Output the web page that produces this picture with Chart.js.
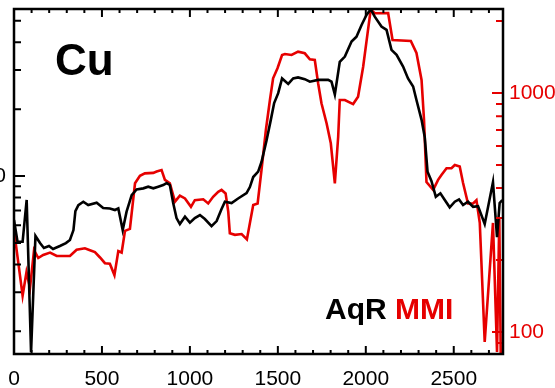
<!DOCTYPE html>
<html>
<head>
<meta charset="utf-8">
<script src="https://cdn.jsdelivr.net/npm/chart.js@4.4.1/dist/chart.umd.min.js"></script>
<style>
  html, body { margin: 0; padding: 0; background: #fff; overflow: hidden; }
  #wrap { position: relative; width: 555px; height: 388px; }
  #chart { position: absolute; left: 0; top: 0; }
  .lbl { position: absolute; font-family: "Liberation Sans", Arial, sans-serif; font-weight: bold; line-height: 1; white-space: nowrap; }
</style>
</head>
<body>
<div id="wrap">
  <canvas id="chart" width="555" height="388"></canvas>
  <div class="lbl" style="left:55px;top:38px;font-size:44px;color:#000">Cu</div>
  <div class="lbl" style="left:325px;top:294px;font-size:30px;"><span style="color:#000">AqR</span> <span style="color:#e60000">MMI</span></div>
</div>
<script>
// distance along the line (m) and Cu values, AqR on the left axis, MMI on the right
const aqrDist = [0, 20, 49, 72, 97, 122, 148, 170, 199, 222,
  261, 295, 318, 338, 349, 366, 394, 422, 470, 507,
  545, 574, 593, 618, 640, 669, 697, 735, 763, 792,
  820, 848, 868, 886, 905, 924, 943, 972, 1000, 1028,
  1057, 1085, 1123, 1152, 1180, 1199, 1237, 1274, 1322, 1341,
  1360, 1388, 1407, 1436, 1460, 1479, 1502, 1524, 1559, 1587,
  1615, 1653, 1682, 1729, 1786, 1805, 1824, 1852, 1881, 1919,
  1947, 1976, 2004, 2028, 2051, 2089, 2118, 2146, 2175, 2212,
  2240, 2269, 2288, 2317, 2335, 2351, 2373, 2398, 2424, 2449,
  2477, 2506, 2530, 2553, 2581, 2610, 2638, 2676, 2723, 2746,
  2761, 2776];
const aqrCu = [63.4, 50.6, 50.6, 78.0, 16.1, 53.7, 49.9, 47.4, 48.4, 46.9,
  48.4, 49.9, 51.5, 57.1, 69.5, 74.0, 76.6, 74.0, 75.8, 71.8,
  71.4, 70.3, 71.5, 57.1, 69.1, 82.1, 87.1, 88.0, 89.5, 88.0,
  89.5, 91.1, 93.0, 91.1, 75.6, 64.7, 60.8, 65.6, 61.7, 64.7,
  66.7, 64.0, 59.5, 62.7, 71.0, 76.6, 75.6, 79.2, 83.8, 89.2,
  99.0, 104.6, 115.6, 145, 179, 213, 236, 275, 260, 275,
  278, 273, 266, 271, 271, 266, 233, 327, 345, 403,
  424, 479, 531, 563, 522, 471, 455, 370, 351, 311,
  275, 253, 220, 179, 150, 104.6, 95.0, 80.7, 83.6, 78.0,
  72.3, 76.6, 78.5, 74.0, 76.6, 72.7, 73.2, 60.8, 93.9, 53.1,
  75.6, 78.0];

const mmiDist = [0, 24, 49, 71, 91, 114, 138, 166, 205, 243,
  318, 356, 403, 432, 460, 489, 517, 545, 571, 593,
  612, 631, 659, 688, 716, 744, 792, 811, 839, 858,
  886, 915, 943, 972, 1006, 1028, 1076, 1104, 1132, 1161,
  1180, 1203, 1218, 1227, 1256, 1294, 1324, 1360, 1385, 1407,
  1432, 1455, 1473, 1498, 1524, 1540, 1578, 1615, 1653, 1682,
  1710, 1729, 1748, 1777, 1801, 1824, 1843, 1852, 1881, 1928,
  1956, 1985, 2010, 2028, 2051, 2127, 2152, 2256, 2288, 2317,
  2331, 2345, 2383, 2411, 2430, 2459, 2487, 2506, 2534, 2553,
  2581, 2610, 2629, 2648, 2676, 2723, 2746, 2759, 2767];
const mmiCu = [267, 196, 142, 178, 153, 220, 204, 210, 215, 208,
  208, 221, 224, 220, 216, 205, 194, 193, 173, 218,
  215, 265, 270, 419, 450, 461, 463, 469, 476, 433,
  419, 351, 372, 362, 334, 356, 359, 345, 368, 386,
  393, 380, 319, 259, 255, 257, 244, 340, 345, 476,
  700, 935, 1152, 1269, 1442, 1456, 1442, 1489, 1466, 1384,
  1374, 1098, 906, 747, 616, 419, 656, 935, 935, 899,
  965, 1288, 1777, 2235, 2156, 2162, 1667, 1650, 1470, 1133,
  771, 424, 393, 433, 454, 484, 485, 500, 492, 420,
  345, 345, 356, 286, 90.8, 286, 82.5, 300, 81];

const xTicks = [0, 500, 1000, 1500, 2000, 2500];
const leftTicks = [100];
const rightTicks = [100, 1000];

const RED = '#e60000';
const FONT = '"Liberation Sans", Arial, sans-serif';

function pts(xs, ys) {
  return xs.map((x, i) => ({ x: x, y: ys[i] }));
}

// minor/major positions for a log axis (1..9 per decade)
function logMarks(scale) {
  const out = [];
  const e0 = Math.floor(Math.log10(scale.min));
  const e1 = Math.ceil(Math.log10(scale.max));
  for (let e = e0; e <= e1; e++) {
    for (let m = 1; m < 10; m++) {
      const v = m * Math.pow(10, e);
      if (v >= scale.min && v <= scale.max) out.push({ v: v, major: m === 1 });
    }
  }
  return out;
}

function noPad(s) {
  s.paddingTop = 0; s.paddingBottom = 0; s.paddingLeft = 0; s.paddingRight = 0;
}

// box round the plot with inward ticks
const frame = {
  id: 'frame',
  afterDatasetsDraw(chart) {
    const { ctx, chartArea: a, scales } = chart;
    ctx.save();
    ctx.lineWidth = 2;
    ctx.strokeStyle = '#000';
    ctx.beginPath();
    for (let v = 0; v <= scales.x.max; v += 100) {
      const px = scales.x.getPixelForValue(v);
      const len = v % 500 === 0 ? 8 : 4;
      ctx.moveTo(px, a.bottom); ctx.lineTo(px, a.bottom - len);
      ctx.moveTo(px, a.top); ctx.lineTo(px, a.top + len);
    }
    logMarks(scales.yL).forEach(t => {
      const py = scales.yL.getPixelForValue(t.v);
      ctx.moveTo(a.left, py); ctx.lineTo(a.left + (t.major ? 11 : 7), py);
    });
    ctx.stroke();
    ctx.strokeStyle = RED;
    ctx.beginPath();
    logMarks(scales.yR).forEach(t => {
      const py = scales.yR.getPixelForValue(t.v);
      ctx.moveTo(a.right, py); ctx.lineTo(a.right - (t.major ? 11 : 7), py);
    });
    ctx.stroke();
    ctx.strokeStyle = '#000';
    ctx.lineWidth = 2.5;
    ctx.strokeRect(a.left, a.top, a.right - a.left, a.bottom - a.top);
    ctx.restore();
  }
};

new Chart(document.getElementById('chart'), {
  type: 'line',
  data: {
    datasets: [
      {
        label: 'AqR',
        data: pts(aqrDist, aqrCu),
        yAxisID: 'yL',
        borderColor: '#000',
        borderWidth: 2.6,
        pointRadius: 0,
        tension: 0
      },
      {
        label: 'MMI',
        data: pts(mmiDist, mmiCu),
        yAxisID: 'yR',
        borderColor: RED,
        borderWidth: 2.6,
        pointRadius: 0,
        tension: 0
      }
    ]
  },
  options: {
    responsive: false,
    animation: false,
    devicePixelRatio: 1,
    layout: { padding: { top: 9, left: 0, right: 0, bottom: 0 } },
    plugins: { legend: { display: false }, tooltip: { enabled: false } },
    scales: {
      x: {
        type: 'linear',
        min: 0,
        max: 2780,
        afterBuildTicks: s => { s.ticks = xTicks.map(v => ({ value: v })); },
        afterFit: s => { s.height = 34; noPad(s); },
        ticks: { font: { family: FONT, size: 21 }, color: '#000', padding: 13, maxRotation: 0, autoSkip: false, callback: v => String(v) },
        grid: { display: false, drawTicks: false },
        border: { display: false }
      },
      yL: {
        type: 'logarithmic',
        position: 'left',
        min: 15.8,
        max: 565,
        afterBuildTicks: s => { s.ticks = leftTicks.map(v => ({ value: v })); },
        afterFit: s => { s.width = 14; noPad(s); },
        ticks: { font: { family: FONT, size: 21 }, color: '#000', padding: 8, autoSkip: false, callback: v => String(v) },
        grid: { display: false, drawTicks: false },
        border: { display: false }
      },
      yR: {
        type: 'logarithmic',
        position: 'right',
        min: 80.9,
        max: 2246,
        afterBuildTicks: s => { s.ticks = rightTicks.map(v => ({ value: v })); },
        afterFit: s => { s.width = 52; noPad(s); },
        ticks: { font: { family: FONT, size: 21 }, color: RED, padding: 6, autoSkip: false, callback: v => String(v) },
        grid: { display: false, drawTicks: false },
        border: { display: false }
      }
    }
  },
  plugins: [frame]
});
</script>
</body>
</html>
